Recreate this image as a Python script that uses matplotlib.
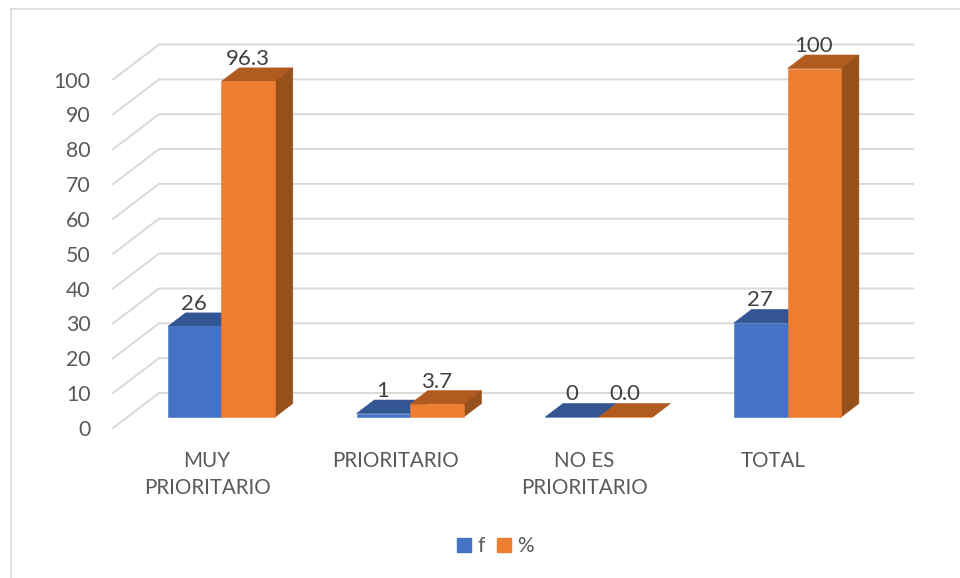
import matplotlib
matplotlib.use("Agg")
import matplotlib.pyplot as plt
from matplotlib.lines import Line2D
from matplotlib.patches import Patch, Polygon

categories = ["MUY\nPRIORITARIO", "PRIORITARIO", "NO ES\nPRIORITARIO", "TOTAL"]
f_values = [26, 1, 0, 27]
pct_values = [96.3, 3.7, 0.0, 100]
f_labels = ["26", "1", "0", "27"]
pct_labels = ["96.3", "3.7", "0.0", "100"]
y_ticks = [0, 10, 20, 30, 40, 50, 60, 70, 80, 90, 100]

W, H = 960, 578
BLUE, BLUE_TOP, BLUE_SIDE = "#4472C4", "#335593", "#2A4A85"
ORANGE, ORANGE_TOP, ORANGE_SIDE = "#ED7D31", "#B15B20", "#96501A"
GRID = "#D9D9D9"

plt.rcParams["font.family"] = ["Lato", "DejaVu Sans"]
fig = plt.figure(figsize=(W / 100, H / 100), dpi=100, facecolor="white")

# Plot rectangle in pixels: the front edge of the 3D floor
L, R, B, T = 113, 914, 428, 44
X0 = 207.0
PX_CAT = 188.7
PX_UNIT = 3.485
ax = fig.add_axes([L / W, 1 - B / H, (R - L) / W, (B - T) / H])
ax.set_xlim((L - X0) / PX_CAT, (R - X0) / PX_CAT)
ax.set_ylim(0, (B - T) / PX_UNIT)
ax.patch.set_visible(False)
for s in ax.spines.values():
    s.set_visible(False)

# Depth direction, in data units per unit of depth
DX = 46.0 / PX_CAT
DY = 35.0 / PX_UNIT
BAR_W = 53.6 / PX_CAT
D_FRONT, D_BACK = 0.314, 0.70


def pt(x, y, d):
    return (x + DX * d, y + DY * d)


# Gridlines on side wall and back wall
x_min = ax.get_xlim()[0]
x_end = (913 - X0) / PX_CAT
for v in y_ticks:
    p0 = pt(x_min, v, 0)
    p1 = pt(x_min, v, 1)
    ax.plot([p0[0], p1[0], x_end], [p0[1], p1[1], p1[1]], color=GRID, lw=1.4,
            clip_on=False, zorder=1, solid_joinstyle="miter")


def bar3d(x0, v, front, top, side):
    x1 = x0 + BAR_W
    a = dict(closed=True, clip_on=False, lw=0.4, zorder=3)
    ax.add_patch(Polygon([pt(x0, v, D_FRONT), pt(x1, v, D_FRONT), pt(x1, v, D_BACK), pt(x0, v, D_BACK)],
                         fc=top, ec=top, **a))
    ax.add_patch(Polygon([pt(x1, 0, D_FRONT), pt(x1, 0, D_BACK), pt(x1, v, D_BACK), pt(x1, v, D_FRONT)],
                         fc=side, ec=side, **a))
    ax.add_patch(Polygon([pt(x0, 0, D_FRONT), pt(x1, 0, D_FRONT), pt(x1, v, D_FRONT), pt(x0, v, D_FRONT)],
                         fc=front, ec=front, **a))


def value_label(xc, v, text):
    _, y = pt(xc, v, D_BACK)
    x_f, _ = pt(xc, v, D_FRONT)
    ax.annotate(text, (x_f, y), xytext=(-0.5, 9.0 * 0.72), textcoords="offset points",
                ha="center", va="center", fontsize=16, color="#404040", zorder=5,
                annotation_clip=False)


for i in range(len(categories)):
    bar3d(i - BAR_W, f_values[i], BLUE, BLUE_TOP, BLUE_SIDE)
    bar3d(i, pct_values[i], ORANGE, ORANGE_TOP, ORANGE_SIDE)
    value_label(i - BAR_W / 2, f_values[i], f_labels[i])
    value_label(i + BAR_W / 2, pct_values[i], pct_labels[i])

ax.set_yticks(y_ticks)
ax.set_yticklabels([str(v) for v in y_ticks], fontsize=15.3, color="#595959")
ax.tick_params(axis="y", length=0, pad=16)
ax.set_xticks(range(len(categories)))
ax.set_xticklabels(categories, fontsize=14.8, color="#595959", linespacing=1.42)
ax.tick_params(axis="x", length=0, pad=16.5)

handles = [Patch(fc=BLUE, ec=BLUE, label="f"), Patch(fc=ORANGE, ec=ORANGE, label="%")]
fig.legend(handles=handles, loc="center", bbox_to_anchor=(495.5 / W, 1 - 546 / H), ncol=2,
           frameon=False, fontsize=15, labelcolor="#595959", handlelength=0.67, handleheight=0.67,
           handletextpad=0.3, columnspacing=0.6, borderpad=0)

# Chart frame (left and top edges are visible in the crop)
frame = dict(color=GRID, lw=1.2, transform=fig.transFigure)
fig.add_artist(Line2D([11 / W, 11 / W], [0, 1 - 8.5 / H], **frame))
fig.add_artist(Line2D([11 / W, 1], [1 - 8.5 / H, 1 - 8.5 / H], **frame))

fig.savefig("out.png", dpi=100, facecolor="white")
